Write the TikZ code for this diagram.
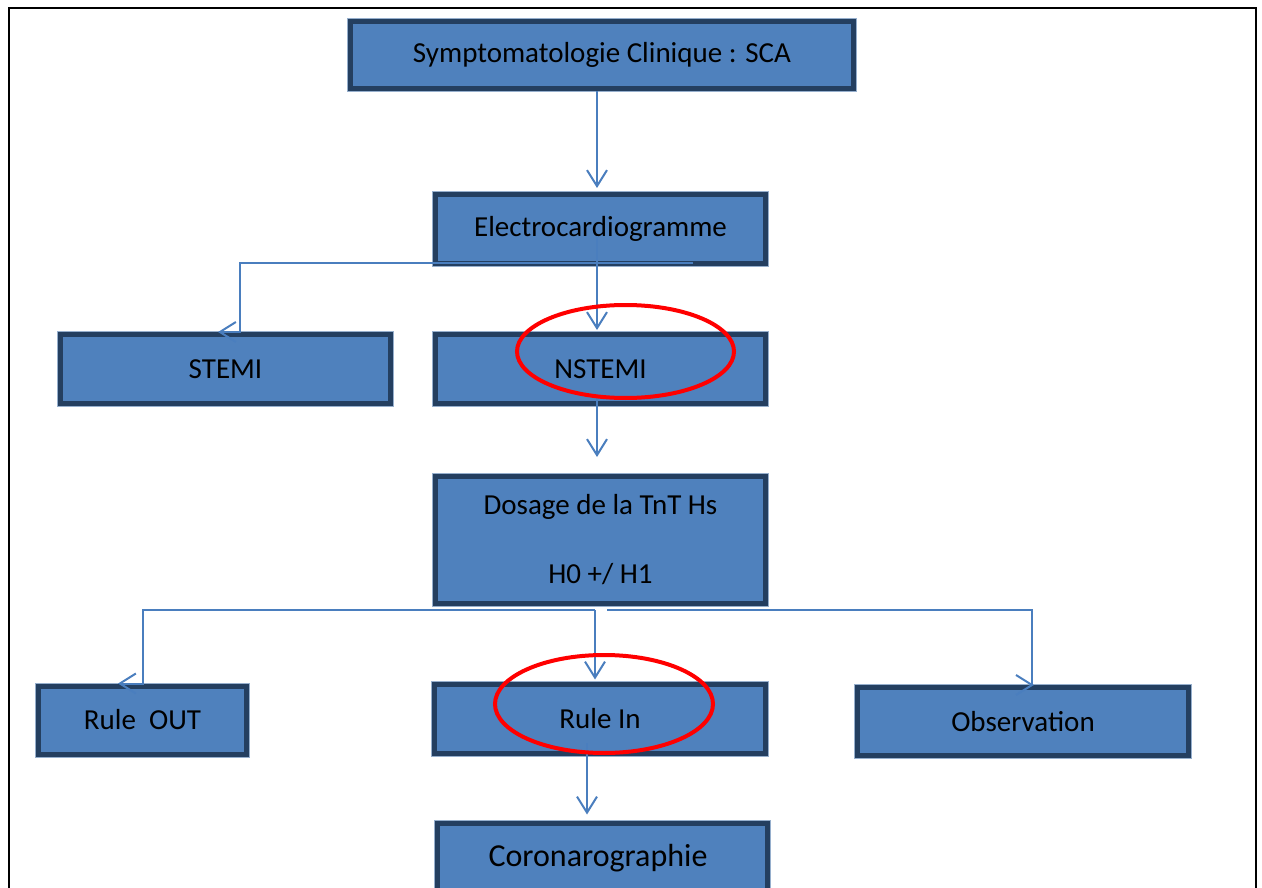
\documentclass[tikz,border=0pt]{standalone}
\usepackage{fontspec}
\setmainfont{Carlito}
\usetikzlibrary{arrows.meta,calc}
\definecolor{boxfill}{RGB}{79,129,189}
\definecolor{boxedge}{RGB}{36,63,96}
\definecolor{boxglow}{RGB}{150,175,205}
\definecolor{wire}{RGB}{74,126,190}
\begin{document}
\begin{tikzpicture}[x=1pt,y=-1pt,
  box/.style={rectangle, fill=boxfill, draw=boxedge, line width=5pt,
    preaction={draw=boxglow, line width=7pt}, inner sep=0pt,
    font=\fontsize{29}{35}\selectfont, text=black, align=center},
  conn/.style={draw=wire, line width=2pt},
  tip/.style={-{Straight Barb[length=16pt,width=20pt]}},
  ring/.style={draw=red, line width=4pt}]
\useasboundingbox (0,0) rectangle (1262,888);
\clip (0,0) rectangle (1262,888);

% page frame
\draw[line width=2.5pt] (9,900) -- (9,8) -- (1256,8) -- (1256,900);

% boxes
\node[box, minimum width=503pt, minimum height=67pt] (symp) at (602,55) {Symptomatologie Clinique : SCA};
\node[box, minimum width=330pt, minimum height=69pt] (ecg) at (600.5,229) {Electrocardiogramme};
\node[box, minimum width=330pt, minimum height=69pt] (stemi) at (225.5,369) {STEMI};
\node[box, minimum width=330pt, minimum height=69pt] (nstemi) at (600.5,369) {NSTEMI};
\node[box, minimum width=330pt, minimum height=127pt] (dosage) at (600.5,540) {Dosage de la TnT Hs\\[34pt]H0 +/ H1};
\node[box, minimum width=208pt, minimum height=68pt] (ruleout) at (142.5,720) {Rule\ \ OUT};
\node[box, minimum width=331pt, minimum height=69pt] (rulein) at (600,719) {Rule In};
\node[box, minimum width=331pt, minimum height=68pt] (obs) at (1023,721.5) {Observation};
\node[box, minimum width=330pt, minimum height=69pt, font=\fontsize{32}{38}\selectfont] (coro) at (602.5,858) {Coronarographie\hspace*{9pt}};

% connector lanes and bends
\coordinate (lane) at (597,0);
\coordinate (lane3) at (587,0);
\coordinate (ecgtap) at (597,236);
\coordinate (ecgtapL) at (693,263);
\coordinate (bendA) at (240,263);
\coordinate (nstemitap) at (597,398);
\coordinate (splitL) at (595,610);
\coordinate (splitR) at (607,610);
\coordinate (bendB) at (143,610);
\coordinate (bendC) at (1032,610);
\coordinate (ruleintap) at (587,743);

% connectors
\draw[conn,tip,shorten >=4pt] (symp.south -| lane) -- (ecg.north -| lane);
\draw[conn,tip,shorten >=2pt] (ecgtap) -- (nstemi.north -| lane);
\draw[conn,tip] (ecgtapL) -- (bendA) -- (bendA |- stemi.north) -- ++(-22,0);
\draw[conn,tip,shorten >=17pt] (nstemitap) -- (dosage.north -| lane);
\draw[conn,tip,shorten >=2.5pt] (splitL) -- (rulein.north -| splitL);
\draw[conn,tip] (splitL) -- (bendB) -- (bendB |- ruleout.north) -- ++(-25,0);
\coordinate (otip) at (bendC |- obs.north);
\draw[conn] (splitR) -- (bendC) -- (otip);
\draw[conn] ($(otip)+(-16,-10)$) -- (otip) -- ($(otip)+(-16,10)$);
\draw[conn,tip,shorten >=6.5pt] (ruleintap) -- (coro.north -| lane3);

% highlight rings
\draw[ring] ([xshift=25pt,yshift=17.5pt]nstemi.center) ellipse [x radius=108.5pt, y radius=46.5pt];
\draw[ring] ([xshift=4pt,yshift=15pt]rulein.center) ellipse [x radius=109pt, y radius=49pt];
\end{tikzpicture}
\end{document}
